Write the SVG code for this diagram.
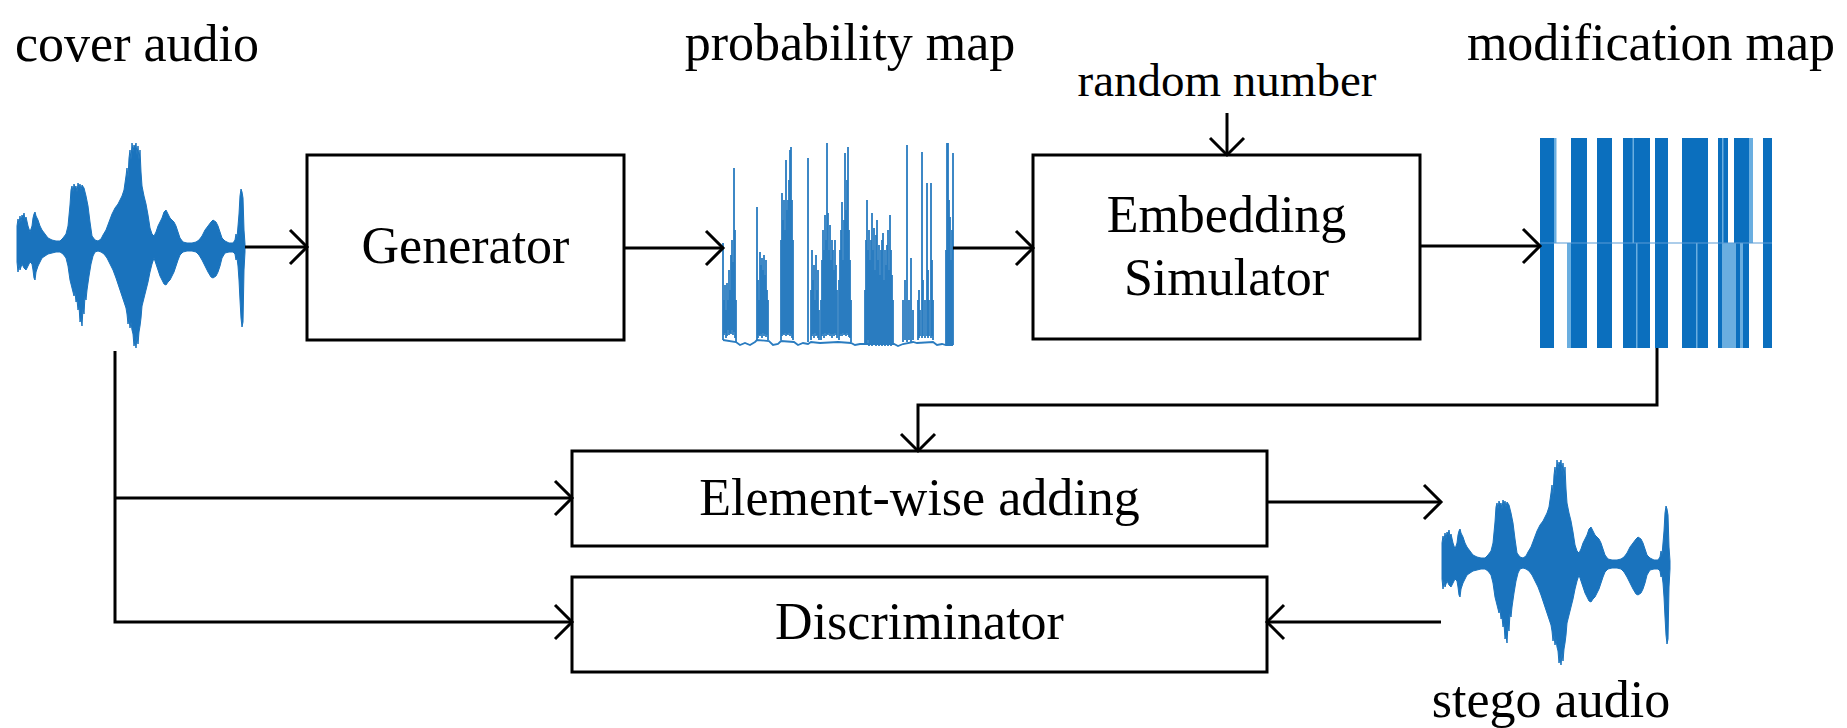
<svg xmlns="http://www.w3.org/2000/svg" xmlns:xlink="http://www.w3.org/1999/xlink" width="1847" height="728" viewBox="0 0 1847 728">
<style>
.box{fill:#fff;stroke:#000;stroke-width:3}
.lbl{font-family:"Liberation Serif","Times New Roman",serif;font-size:52px;fill:#000}
.conn{fill:none;stroke:#000;stroke-width:3}
.wave{fill:#1a73bd;stroke:#1a73bd;stroke-width:1;stroke-linejoin:round}
.spk{fill:none;stroke:#2a7cc0;stroke-width:1.8}
.bar{fill:#0b6fbe}
.lbar{fill:#6aaee0}
</style>
<defs>
<marker id="arr" viewBox="-20 -20 24 40" refX="0" refY="0" markerWidth="24" markerHeight="40" markerUnits="userSpaceOnUse" orient="auto">
<path d="M-17,-17 L0,0 L-17,17" fill="none" stroke="#000" stroke-width="3"/>
</marker>
<path id="wavefm" class="wave" d="M17,226 L18,219 19,224 20,216 21,222 22,215 23,218 24,213 25,220 26,217 28,226 30,232 32,226 33,218 34,214 35,212 36,216 38,220 40,226 42,230 45,234 48,238 52,240 56,241 60,241 63,238 66,234 68,226 70,205 71,190 72,186 73,192 74,184 75,188 76,186 77,192 78,183 79,188 80,184 81,190 82,185 84,188 86,196 88,206 90,222 92,236 95,240 98,241 101,239 103,235 106,230 109,222 112,214 115,208 118,204 120,200 122,196 124,190 126,176 127,168 128,178 129,158 130,150 131,160 132,143 133,152 134,145 135,148 136,143 137,155 138,146 139,160 140,150 141,172 142,186 144,196 146,204 148,215 150,228 152,234 154,236 156,232 158,226 160,222 162,218 164,212 166,210 168,214 170,218 172,220 174,222 176,226 178,232 180,238 183,242 187,243 192,243 196,242 199,240 202,236 205,230 208,226 211,222 213,220 216,222 218,226 220,232 222,238 225,241 229,243 233,243 235,240 236,234 237,238 238,226 239,214 240,196 241,189 242,192 243,198 244,230 245,244 L245,252 244,270 243,322 242,327 241,318 240,300 239,280 238,266 237,258 236,260 235,254 233,252 229,252 225,253 222,258 220,266 218,272 216,276 213,278 211,277 208,272 205,266 202,260 199,255 196,252 192,251 187,251 183,252 180,255 178,260 176,266 174,272 172,276 170,280 168,282 166,285 164,284 162,280 160,276 158,270 156,264 154,258 152,264 150,272 148,282 146,290 144,298 142,306 141,318 140,326 139,332 138,344 137,336 136,348 135,340 134,346 133,334 132,330 131,322 130,328 129,318 128,324 127,314 126,308 124,302 122,296 120,290 118,284 116,278 113,270 110,264 107,258 104,254 101,252 98,251 95,252 93,256 91,264 89,276 87,290 86,300 85,296 84,314 83,308 82,326 81,318 80,322 79,306 78,310 77,300 76,302 75,292 74,296 72,288 70,280 68,266 66,258 63,254 60,252 56,252 52,253 48,254 45,256 42,258 40,262 38,266 36,272 35,280 34,278 33,270 32,264 30,262 28,266 26,270 24,268 22,264 20,270 19,264 18,272 17,262 Z"/>
</defs>

<g id="cover-audio">
<use xlink:href="#wavefm" href="#wavefm"/>
<text class="lbl" x="15" y="61">cover audio</text>
</g>

<g id="generator">
<rect class="box" x="307" y="155" width="317" height="185"/>
<text class="lbl" x="465.5" y="263" text-anchor="middle">Generator</text>
</g>

<g id="probability-map">
<text class="lbl" x="850" y="60" text-anchor="middle">probability map</text>
<polyline class="spk" points="723,340 736,342 740,345 745,343 750,345 755,342 757,340 769,341 773,345 778,344 781,341 794,342 798,345 803,343 808,344 811,342 820,343 838,342 851,343 855,345 860,344 865,344 894,344 898,346 903,344 913,342 917,343 933,342 937,345 942,344 946,345 953,345"/>
<path class="spk" d="M723,243V340M724,300V335M725,285V333M726,310V338M727,283V336M728,300V330M729,270V335M730,290V333M731,255V334M732,240V330M733,262V335M734,168V332M735,230V338M736,300V342
M757,207V340M758,280V338M759,300V335M760,252V336M761,265V334M762,258V338M763,270V333M764,255V336M765,275V334M766,260V337M767,290V335M768,300V340
M781,240V340M782,193V336M783,220V334M784,200V335M785,230V333M786,160V336M787,210V334M788,200V335M789,180V333M790,150V336M791,147V334M792,200V338M793,240V340
M808,158V342
M811,290V340M812,250V336M813,280V334M814,265V338M815,300V333M816,255V336M817,290V335M818,270V338M819,310V340
M821,300V340M822,260V336M823,230V334M824,250V338M825,215V333M826,240V336M827,143V334M828,213V335M829,250V333M830,225V336M831,260V334M832,240V338M833,250V334M834,270V336M835,240V333M836,265V335M837,290V338
M839,280V340M840,250V336M841,230V334M842,202V336M843,260V333M844,220V335M845,153V334M846,210V336M847,180V333M848,147V335M849,230V337M850,260V338M851,300V342
M865,290V344M866,240V343M867,200V345M868,250V340M869,230V346M870,260V344M871,240V345M872,213V346M873,250V343M874,228V345M875,270V344M876,235V346M877,220V345M878,260V343M879,245V346M880,275V345M881,250V344M882,240V346M883,233V345M884,280V343M885,250V346M886,265V345M887,245V344M888,230V346M889,270V345M890,215V343M891,250V346M892,275V345M893,300V344
M903,300V342M905,280V340M907,145V342M909,300V340M911,258V342M913,310V340M918,300V340M919,290V338M920,310V336M922,152V338M923,280V336M925,300V338M927,183V336M928,270V338M929,300V336M931,183V338M932,260V336M933,300V340
M946,250V345M947,143V345M948,143V345M949,200V345M950,217V345M951,260V345M952,230V345M953,153V345"/>
</g>

<g id="embedding-simulator">
<text class="lbl" x="1227" y="96" text-anchor="middle" style="font-size:47px">random number</text>
<rect class="box" x="1033" y="155" width="387" height="184"/>
<text class="lbl" x="1226.5" y="232" text-anchor="middle">Embedding</text>
<text class="lbl" x="1226.5" y="295" text-anchor="middle">Simulator</text>
</g>

<g id="modification-map">
<text class="lbl" x="1651" y="60" text-anchor="middle">modification map</text>
<rect class="bar" x="1540" y="138" width="14" height="210"/>
<rect class="lbar" x="1554" y="138" width="2.5" height="105"/>
<rect class="bar" x="1571" y="138" width="16" height="105"/>
<rect class="lbar" x="1567" y="243" width="4" height="105"/>
<rect class="bar" x="1571" y="243" width="16" height="105"/>
<rect class="bar" x="1597" y="138" width="15" height="210"/>
<rect class="bar" x="1623" y="138" width="27" height="210"/>
<rect class="lbar" x="1632.5" y="138" width="1.5" height="105"/>
<rect class="lbar" x="1636" y="243" width="1.5" height="105"/>
<rect class="bar" x="1655" y="138" width="13" height="210"/>
<rect class="bar" x="1682" y="138" width="26" height="210"/>
<rect class="lbar" x="1696" y="243" width="1.5" height="105"/>
<rect class="bar" x="1718" y="138" width="10" height="105"/>
<rect class="lbar" x="1722" y="138" width="1.5" height="105"/>
<rect class="bar" x="1734" y="138" width="15" height="105"/>
<rect class="lbar" x="1749" y="138" width="4" height="105"/>
<rect class="bar" x="1718" y="243" width="4" height="105"/>
<rect class="lbar" x="1722" y="243" width="14" height="105"/>
<rect class="bar" x="1736" y="243" width="4" height="105"/>
<rect class="lbar" x="1740" y="243" width="3" height="105"/>
<rect class="bar" x="1743" y="243" width="6" height="105"/>
<rect class="bar" x="1763" y="138" width="9" height="210"/>
<line x1="1540" y1="243" x2="1772" y2="243" stroke="#5b9bd5" stroke-width="1.2"/>
</g>

<g id="element-wise-adding">
<rect class="box" x="572" y="451" width="695" height="95"/>
<text class="lbl" x="919.5" y="515" text-anchor="middle">Element-wise adding</text>
</g>

<g id="discriminator">
<rect class="box" x="572" y="577" width="695" height="95"/>
<text class="lbl" x="919.5" y="639" text-anchor="middle">Discriminator</text>
</g>

<g id="stego-audio">
<use xlink:href="#wavefm" href="#wavefm" transform="translate(1425,317)"/>
<text class="lbl" x="1551" y="717" text-anchor="middle">stego audio</text>
</g>

<g id="connectors">
<path class="conn" d="M245,247H307" marker-end="url(#arr)"/>
<path class="conn" d="M624,248H723" marker-end="url(#arr)"/>
<path class="conn" d="M953,248H1033" marker-end="url(#arr)"/>
<path class="conn" d="M1227,113V155" marker-end="url(#arr)"/>
<path class="conn" d="M1420,246H1540" marker-end="url(#arr)"/>
<path class="conn" d="M1657,348V405H918V451" marker-end="url(#arr)"/>
<path class="conn" d="M115,351V622H572" marker-end="url(#arr)"/>
<path class="conn" d="M115,498H572" marker-end="url(#arr)"/>
<path class="conn" d="M1267,502H1441" marker-end="url(#arr)"/>
<path class="conn" d="M1441,622H1267" marker-end="url(#arr)"/>
</g>
</svg>
